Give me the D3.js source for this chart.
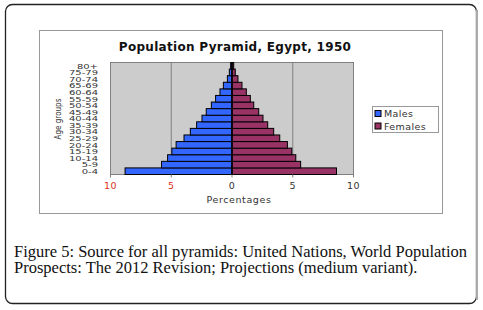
<!DOCTYPE html>
<html>
<head>
<meta charset="utf-8">
<script src="https://cdn.jsdelivr.net/npm/d3@7"></script>
<style>
  body { margin: 0; background: #fff; }
  svg { display: block; }
</style>
</head>
<body>
<svg id="chart" width="483" height="310"></svg>
<script>
// age groups, bottom to top
let ageGroups = ["0-4", "5-9", "10-14", "15-19", "20-24", "25-29", "30-34", "35-39",
    "40-44", "45-49", "50-54", "55-59", "60-64", "65-69", "70-74", "75-79", "80+"];
// percentages
let males = [8.8, 5.8, 5.3, 4.95, 4.6, 3.95, 3.43, 2.91, 2.47, 2.12, 1.7, 1.35, 0.99, 0.71, 0.38, 0.22, 0.11];
let females = [8.6, 5.65, 5.25, 4.92, 4.56, 3.93, 3.43, 2.94, 2.55, 2.2, 1.79, 1.51, 1.18, 0.82, 0.49, 0.27, 0.14];
let xTicks = [-10, -5, 0, 5, 10];
let seriesNames = ["Males", "Females"];
let colors = ["#3366ff", "#993366"];

let svg = d3.select("#chart");

// outer caption frame
svg.append("rect")
    .attr("x", 5.5).attr("y", 4.5)
    .attr("width", 471).attr("height", 299)
    .attr("rx", 7)
    .attr("fill", "none")
    .attr("stroke", "#222")
    .attr("stroke-width", 1.3);
svg.append("line")
    .attr("x1", 477).attr("x2", 477).attr("y1", 10).attr("y2", 300)
    .attr("stroke", "#aaa").attr("stroke-width", 2);

// chart frame
svg.append("rect")
    .attr("x", 39.5).attr("y", 30.5)
    .attr("width", 403).attr("height", 183)
    .attr("fill", "#fff")
    .attr("stroke", "#999");

let plot = { left: 110.5, right: 353.5, top: 62.5, bottom: 174.5 };

let x = d3.scaleLinear().domain([-10, 10]).range([plot.left, plot.right]);
let y = d3.scaleBand().domain(ageGroups).range([plot.bottom, plot.top]).padding(0);

// plot background
svg.append("rect")
    .attr("x", plot.left).attr("y", plot.top)
    .attr("width", plot.right - plot.left).attr("height", plot.bottom - plot.top)
    .attr("fill", "#cccccc")
    .attr("stroke", "#808080");

// gridlines
svg.selectAll(".grid")
    .data([-5, 5])
    .enter()
    .append("line")
    .attr("x1", d => x(d)).attr("x2", d => x(d))
    .attr("y1", plot.top).attr("y2", plot.bottom)
    .attr("stroke", "#808080");

// bars
let rows = ageGroups.map((g, i) => ({ group: g, m: males[i], f: females[i] }));

svg.selectAll(".male")
    .data(rows)
    .enter()
    .append("rect")
    .attr("x", d => x(-d.m))
    .attr("y", d => y(d.group))
    .attr("width", d => x(0) - x(-d.m))
    .attr("height", y.bandwidth())
    .attr("fill", colors[0])
    .attr("stroke", "#000")
    .attr("stroke-width", 1);

svg.selectAll(".female")
    .data(rows)
    .enter()
    .append("rect")
    .attr("x", x(0))
    .attr("y", d => y(d.group))
    .attr("width", d => x(d.f) - x(0))
    .attr("height", y.bandwidth())
    .attr("fill", colors[1])
    .attr("stroke", "#000")
    .attr("stroke-width", 1);

// zero axis
svg.append("line")
    .attr("x1", x(0)).attr("x2", x(0))
    .attr("y1", plot.top).attr("y2", plot.bottom)
    .attr("stroke", "#000").attr("stroke-width", 1.5);

// x axis labels
svg.selectAll(".xt")
    .data(xTicks)
    .enter()
    .append("text")
    .attr("x", d => x(d))
    .attr("y", 189)
    .attr("text-anchor", "middle")
    .attr("font-family", "DejaVu Sans")
    .attr("font-size", 9.5)
    .attr("letter-spacing", 0.5)
    .attr("fill", d => d < 0 ? "#e03020" : "#333")
    .text(d => Math.abs(d));

svg.selectAll(".xtick")
    .data(xTicks)
    .enter()
    .append("line")
    .attr("x1", d => x(d)).attr("x2", d => x(d))
    .attr("y1", plot.bottom).attr("y2", plot.bottom + 3)
    .attr("stroke", "#808080");

// y axis labels (squashed vertically like the source image)
svg.selectAll(".yl")
    .data(ageGroups)
    .enter()
    .append("text")
    .attr("transform", d => "translate(98," + (y(d) + y.bandwidth() / 2 + 2.8) + ") scale(1,0.72)")
    .attr("text-anchor", "end")
    .attr("font-family", "DejaVu Sans")
    .attr("font-size", 10)
    .attr("fill", "#333")
    .text(d => d);

// titles
svg.append("text")
    .attr("x", 235).attr("y", 51)
    .attr("text-anchor", "middle")
    .attr("font-family", "DejaVu Sans")
    .attr("font-weight", "bold")
    .attr("font-size", 12)
    .attr("letter-spacing", 0.3)
    .attr("fill", "#111")
    .text("Population Pyramid, Egypt, 1950");

svg.append("text")
    .attr("x", 239).attr("y", 203)
    .attr("text-anchor", "middle")
    .attr("font-family", "DejaVu Sans")
    .attr("font-size", 9.5)
    .attr("letter-spacing", 0.6)
    .attr("fill", "#333")
    .text("Percentages");

svg.append("text")
    .attr("transform", "translate(61,119) rotate(-90)")
    .attr("text-anchor", "middle")
    .attr("font-family", "DejaVu Sans Condensed")
    .attr("font-size", 8)
    .attr("fill", "#333")
    .text("Age groups");

// legend
let legend = svg.append("g").attr("transform", "translate(372,106)");
legend.append("rect")
    .attr("x", 0.5).attr("y", 0.5)
    .attr("width", 66).attr("height", 26)
    .attr("fill", "#fff")
    .attr("stroke", "#999");

let items = legend.selectAll(".item")
    .data(seriesNames)
    .enter()
    .append("g")
    .attr("transform", (d, i) => "translate(3," + (3 + i * 12.5) + ")");
items.append("rect")
    .attr("width", 6).attr("height", 6)
    .attr("y", 1.5)
    .attr("fill", (d, i) => colors[i])
    .attr("stroke", "#000");
items.append("text")
    .attr("x", 9).attr("y", 8)
    .attr("font-family", "DejaVu Sans")
    .attr("font-size", 9.5)
    .attr("letter-spacing", 0.4)
    .attr("fill", "#333")
    .text(d => d);

// caption
let caption = svg.append("text")
    .attr("font-family", "Liberation Serif")
    .attr("font-size", 16.5)
    .attr("fill", "#111");
caption.append("tspan").attr("x", 14).attr("y", 257)
    .text("Figure 5: Source for all pyramids: United Nations, World Population");
caption.append("tspan").attr("x", 14).attr("y", 273)
    .text("Prospects: The 2012 Revision; Projections (medium variant).");
</script>
</body>
</html>
